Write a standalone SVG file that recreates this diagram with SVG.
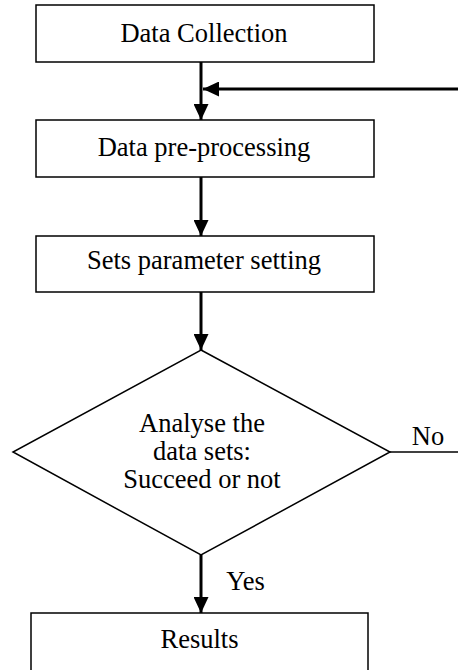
<svg xmlns="http://www.w3.org/2000/svg" width="458" height="670" viewBox="0 0 458 670">
  <style>
    .box { fill: #fff; stroke: #000; stroke-width: 1.5; }
    .lbl { font-family: "Liberation Serif", "Times New Roman", serif; font-size: 26.5px; fill: #000; text-anchor: middle; }
    .edge { stroke: #000; stroke-width: 3; fill: none; }
    .thin { stroke: #000; stroke-width: 1.5; fill: none; }
  </style>
  <defs>
    <marker id="arrow" markerUnits="userSpaceOnUse" markerWidth="16" markerHeight="15" refX="16" refY="7.5" orient="auto">
      <path d="M0,0 L16,7.5 L0,15 Z" fill="#000"/>
    </marker>
  </defs>
  <rect width="458" height="670" fill="#fff"/>
  <g id="connectors">
    <line class="edge" x1="201" y1="62" x2="201" y2="120" marker-end="url(#arrow)"/>
    <line class="edge" x1="458" y1="89" x2="203" y2="89" marker-end="url(#arrow)"/>
    <line class="edge" x1="201" y1="177" x2="201" y2="236" marker-end="url(#arrow)"/>
    <line class="edge" x1="201" y1="292" x2="201" y2="350" marker-end="url(#arrow)"/>
    <line class="edge" x1="201" y1="555" x2="201" y2="613" marker-end="url(#arrow)"/>
    <text class="lbl" x="245.5" y="590">Yes</text>
    <line class="thin" x1="390" y1="452" x2="458" y2="452"/>
    <text class="lbl" x="428" y="445">No</text>
  </g>
  <g id="data-collection">
    <rect class="box" x="36" y="5" width="338" height="57"/>
    <text class="lbl" x="204" y="42">Data Collection</text>
  </g>
  <g id="data-preprocessing">
    <rect class="box" x="36" y="120" width="338" height="57"/>
    <text class="lbl" x="204" y="156">Data pre-processing</text>
  </g>
  <g id="parameter-setting">
    <rect class="box" x="36" y="236" width="338" height="56"/>
    <text class="lbl" x="204" y="269">Sets parameter setting</text>
  </g>
  <g id="decision">
    <polygon class="box" points="201,350 390,452 201,555 13,452"/>
    <text class="lbl" x="202" y="432">Analyse the</text>
    <text class="lbl" x="202" y="460">data sets:</text>
    <text class="lbl" x="202" y="488">Succeed or not</text>
  </g>
  <g id="results">
    <rect class="box" x="31" y="613" width="337" height="70"/>
    <text class="lbl" x="199.5" y="648">Results</text>
  </g>
</svg>
